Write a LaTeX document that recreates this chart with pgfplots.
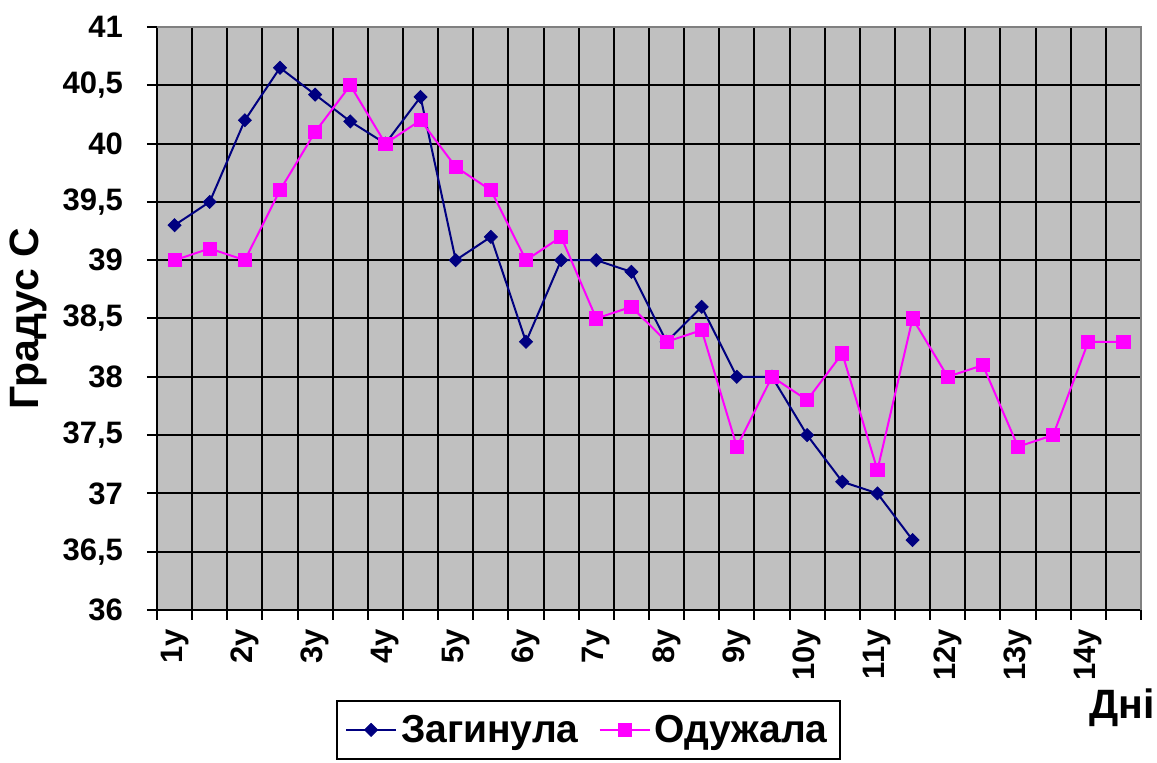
\documentclass[border=0pt]{standalone}
\usepackage{pgfplots}
\pgfplotsset{compat=1.18}
\usepackage{fontspec}
\setmainfont{Liberation Sans}
\definecolor{navyS}{HTML}{000080}
\definecolor{magS}{HTML}{FF00FF}
\definecolor{bgS}{HTML}{C0C0C0}
\definecolor{brdS}{HTML}{808080}
\begin{document}
\begin{tikzpicture}
\useasboundingbox (-78.5pt,-76.5pt) rectangle (500pt,305pt);
\begin{axis}[
  at={(0,0)}, anchor=south west,
  scale only axis, width=492pt, height=291.5pt,
  xmin=-0.5, xmax=27.5, ymin=36, ymax=41,
  axis background/.style={fill=bgS},
  axis x line*=bottom, axis y line*=left,
  axis line style={black, line width=1pt, -},
  xtick={-0.5,0.5,...,27.5}, xticklabels={},
  extra x ticks={0,2,...,26},
  extra x tick labels={1у,2у,3у,4у,5у,6у,7у,8у,9у,10у,11у,12у,13у,14у},
  extra x tick style={major tick length=0pt, grid=none,
     tick label style={yshift=-6pt, rotate=90, anchor=east, font=\fontsize{15.5}{15.5}\selectfont\bfseries}},
  ytick={36,36.5,...,41},
  yticklabel style={font=\fontsize{15.5}{15.5}\selectfont\bfseries, /pgf/number format/use comma, xshift=-8.5pt},
  /pgf/number format/assume math mode=true,
  tick align=outside, major tick length=5pt,
  tick style={black, line width=1pt},
  grid=major, major grid style={black, line width=1pt},
  ylabel={Градус С},
  ylabel style={at={(axis description cs:-0.131,0.5)}, anchor=center, rotate=0, font=\fontsize{20.5}{20.5}\selectfont\bfseries},
  xlabel={Дні},
  xlabel style={at={(axis description cs:0.981,-0.168)}, anchor=center, font=\fontsize{20.5}{20.5}\selectfont\bfseries},
  legend columns=2,
  legend style={at={(axis description cs:0.182,-0.154)}, anchor=north west, draw=black, line width=1pt,
     font=\fontsize{19.5}{19.5}\selectfont\bfseries, inner xsep=4pt, inner ysep=5pt,
     /tikz/every even column/.append style={column sep=8pt}},
  legend image code/.code={\draw[#1, line width=1pt] (0pt,0pt) -- (25pt,0pt); \draw[#1, mark repeat=1] plot coordinates {(12.5pt,0pt)};},
  clip=false,
]
\addplot[navyS, line width=1pt, mark=square*, mark size=2.3pt, mark options={rotate=45, fill=navyS, draw=navyS, line width=0.4pt}] coordinates {
(0,39.3)(1,39.5)(2,40.2)(3,40.65)(4,40.42)(5,40.19)(6,40.0)(7,40.4)(8,39.0)(9,39.2)
(10,38.3)(11,39.0)(12,39.0)(13,38.9)(14,38.3)(15,38.6)(16,38.0)(17,38.0)(18,37.5)(19,37.1)
(20,37.0)(21,36.6)};
\addlegendentry{Загинула}
\addplot[magS, line width=1pt, mark=square*, mark size=3.3pt, mark options={fill=magS, draw=magS, line width=0.4pt}] coordinates {
(0,39.0)(1,39.1)(2,39.0)(3,39.6)(4,40.1)(5,40.5)(6,40.0)(7,40.2)(8,39.8)(9,39.6)
(10,39.0)(11,39.2)(12,38.5)(13,38.6)(14,38.3)(15,38.4)(16,37.4)(17,38.0)(18,37.8)(19,38.2)
(20,37.2)(21,38.5)(22,38.0)(23,38.1)(24,37.4)(25,37.5)(26,38.3)(27,38.3)};
\addlegendentry{Одужала}
\draw[brdS, line width=1.3pt] (rel axis cs:0,1) -- (rel axis cs:1,1) -- (rel axis cs:1,0);
\end{axis}
\end{tikzpicture}
\end{document}
